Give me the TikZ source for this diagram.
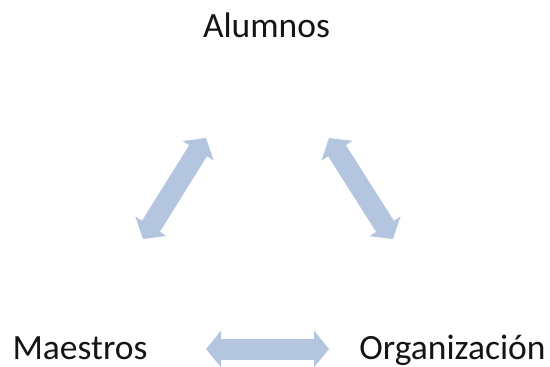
\documentclass[tikz,border=0pt]{standalone}
\usepackage{fontspec}
\setmainfont{Carlito}
\usetikzlibrary{arrows.meta}
\definecolor{arrowblue}{RGB}{180,197,223}
\definecolor{txt}{RGB}{20,20,20}
\tikzset{
  lbl/.style={anchor=base, inner sep=0pt, font=\fontsize{35.5}{40}\selectfont, text=txt},
  biarrow/.style={draw=arrowblue, line width=21pt,
    {Triangle[width=36pt,length=15pt]}-{Triangle[width=36pt,length=15pt]}}
}
\begin{document}
\begin{tikzpicture}[x=1pt,y=-1pt]
\useasboundingbox (0,0) rectangle (550,367);
\node[lbl] (Alumnos) at (266.5,37) {Alumnos};
\node[lbl] (Maestros) at (80,359.5) {Maestros};
\node[lbl] (Organizacion) at (452.5,359.5) {Organización};
\coordinate (am1) at (206,138);
\coordinate (am2) at (143,239);
\coordinate (ao1) at (329,138);
\coordinate (ao2) at (393,239);
\coordinate (mo1) at (206,349);
\coordinate (mo2) at (329,349);
\draw[biarrow] (am1) -- (am2);
\draw[biarrow] (ao1) -- (ao2);
\draw[biarrow] (mo1) -- (mo2);
\end{tikzpicture}
\end{document}
